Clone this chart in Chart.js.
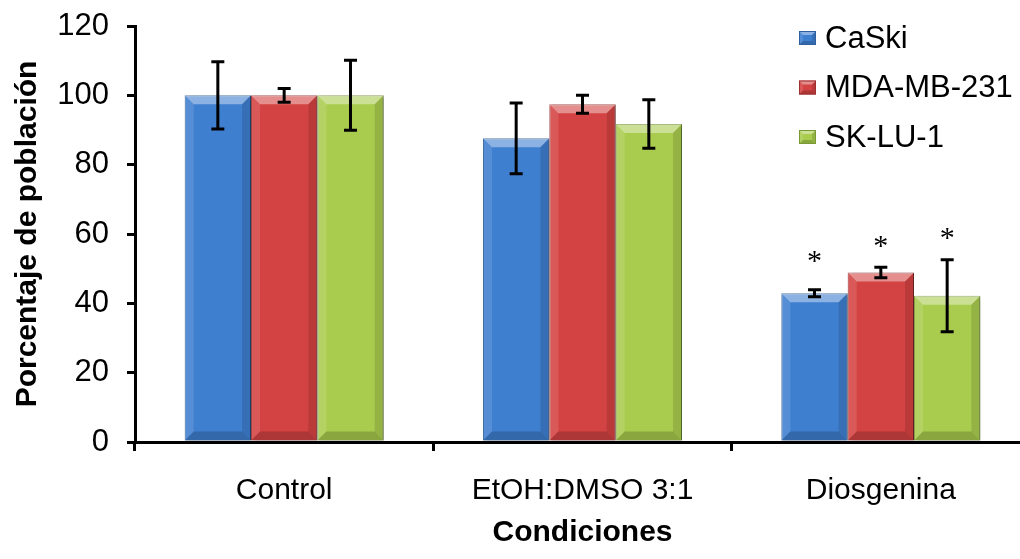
<!DOCTYPE html>
<html lang="es">
<head>
<meta charset="UTF-8">
<title>Porcentaje de población</title>
<script src="https://cdn.jsdelivr.net/npm/chart.js"></script>
<style>
    html, body {
        margin: 0;
        padding: 0;
        background: #fff;
        overflow: hidden;
    }

    /* plot runs a little past the window edge, like the original */
    .chart-box {
        width: 1032px;
        height: 559px;
    }
</style>
</head>
<body>
<div class="chart-box"><canvas id="chart"></canvas></div>

<script>
    const categories = ['Control', 'EtOH:DMSO 3:1', 'Diosgenina'];
    const seriesNames = ['CaSki', 'MDA-MB-231', 'SK-LU-1'];

    const caski = [100, 87.6, 42.9];
    const mda = [100, 97.4, 48.9];
    const sklu = [100, 91.7, 42.2];

    const caskiErr = [9.7, 10.2, 1.0];
    const mdaErr = [2.0, 2.6, 1.5];
    const skluErr = [10.1, 7.0, 10.4];

    // where the significance asterisks sit (value units), null = none
    const caskiStar = [null, null, 52.8];
    const mdaStar = [null, null, 57.1];
    const skluStar = [null, null, 59.4];

    const yMin = 0, yMax = 120, yStep = 20;

    const fills = ['#3f7fd0', '#d44343', '#a9cc4e'];
    const edges = ['#2f5f9c', '#9c2f2f', '#7a9a34'];

    const errs = [caskiErr, mdaErr, skluErr];
    const stars = [caskiStar, mdaStar, skluStar];

    const FONT = '"Liberation Sans", Arial, sans-serif';

    function poly(ctx, pts, color) {
        ctx.beginPath();
        ctx.moveTo(pts[0][0], pts[0][1]);
        for (let i = 1; i < pts.length; i++) ctx.lineTo(pts[i][0], pts[i][1]);
        ctx.closePath();
        ctx.fillStyle = color;
        ctx.fill();
    }

    // excel-like bevel on a rectangle
    function bevel(ctx, l, t, r, b, s) {
        poly(ctx, [[l, t], [r, t], [r - s, t + s], [l + s, t + s]], 'rgba(255,255,255,0.4)');
        poly(ctx, [[l, t], [l + s, t + s], [l + s, b - s], [l, b]], 'rgba(255,255,255,0.12)');
        poly(ctx, [[r, t], [r, b], [r - s, b - s], [r - s, t + s]], 'rgba(0,0,0,0.12)');
        poly(ctx, [[l, b], [r, b], [r - s, b - s], [l + s, b - s]], 'rgba(0,0,0,0.18)');
    }

    const barShadow = {
        id: 'barShadow',
        beforeDatasetDraw(chart) {
            const ctx = chart.ctx;
            ctx.save();
            ctx.shadowColor = 'rgba(0,0,0,0.35)';
            ctx.shadowBlur = 4;
            ctx.shadowOffsetX = 2;
            ctx.shadowOffsetY = 1;
        },
        afterDatasetDraw(chart) {
            chart.ctx.restore();
        }
    };

    const extras = {
        id: 'extras',
        afterDatasetsDraw(chart) {
            const ctx = chart.ctx;
            const y = chart.scales.y;

            // bevels
            chart.data.datasets.forEach((ds, di) => {
                chart.getDatasetMeta(di).data.forEach(bar => {
                    const l = bar.x - bar.width / 2, r = bar.x + bar.width / 2;
                    ctx.save();
                    bevel(ctx, l, bar.y, r, bar.base, 9);
                    ctx.restore();
                });
            });

            // error bars
            ctx.save();
            ctx.strokeStyle = '#000';
            ctx.lineWidth = 3;
            chart.data.datasets.forEach((ds, di) => {
                chart.getDatasetMeta(di).data.forEach((bar, i) => {
                    const v = ds.data[i], e = errs[di][i];
                    const top = y.getPixelForValue(v + e);
                    const bot = y.getPixelForValue(v - e);
                    ctx.beginPath();
                    ctx.moveTo(bar.x, top); ctx.lineTo(bar.x, bot);
                    ctx.moveTo(bar.x - 6.5, top); ctx.lineTo(bar.x + 6.5, top);
                    ctx.moveTo(bar.x - 6.5, bot); ctx.lineTo(bar.x + 6.5, bot);
                    ctx.stroke();
                });
            });
            ctx.restore();

            // asterisks
            ctx.save();
            ctx.fillStyle = '#000';
            ctx.font = '30px "Liberation Serif", serif';
            ctx.textAlign = 'center';
            ctx.textBaseline = 'alphabetic';
            chart.data.datasets.forEach((ds, di) => {
                chart.getDatasetMeta(di).data.forEach((bar, i) => {
                    const s = stars[di][i];
                    if (s == null) return;
                    ctx.fillText('*', bar.x, y.getPixelForValue(s) + 11);
                });
            });
            ctx.restore();

            // legend, top right inside the plot
            const area = chart.chartArea;
            ctx.save();
            ctx.font = '31px ' + FONT;
            ctx.textBaseline = 'middle';
            ctx.textAlign = 'left';
            chart.data.datasets.forEach((ds, di) => {
                const lx = area.right - 231;
                const ly = area.top + 12 + di * 49.5;
                ctx.fillStyle = fills[di];
                ctx.fillRect(lx, ly - 7, 17, 14);
                bevel(ctx, lx, ly - 7, lx + 17, ly + 7, 4);
                ctx.strokeStyle = edges[di];
                ctx.lineWidth = 1;
                ctx.strokeRect(lx + 0.5, ly - 6.5, 16, 13);
                ctx.fillStyle = '#000';
                ctx.fillText(ds.label, lx + 26, ly + 1);
            });
            ctx.restore();
        }
    };

    const ctx = document.getElementById('chart').getContext('2d');
    const chart = new Chart(ctx, {
        type: 'bar',
        data: {
            labels: categories,
            datasets: [caski, mda, sklu].map((vals, i) => ({
                label: seriesNames[i],
                data: vals,
                backgroundColor: fills[i],
                borderColor: edges[i],
                borderWidth: 1,
                categoryPercentage: 0.667,
                barPercentage: 1.0
            }))
        },
        options: {
            responsive: true,
            maintainAspectRatio: false,
            animation: false,
            layout: { padding: { top: 26, right: 2 } },
            plugins: {
                legend: { display: false },
                tooltip: { enabled: false }
            },
            scales: {
                x: {
                    grid: {
                        offset: true,
                        drawOnChartArea: false,
                        color: '#000',
                        lineWidth: 3,
                        tickLength: 9
                    },
                    border: { color: '#000', width: 3 },
                    ticks: {
                        color: '#000',
                        padding: 22,
                        font: { family: FONT, size: 30 }
                    },
                    title: {
                        display: true,
                        text: 'Condiciones',
                        color: '#000',
                        padding: { top: 0, bottom: 8 },
                        font: { family: FONT, size: 30, weight: 'bold' }
                    },
                    afterFit(scale) { scale.height = 117; }
                },
                y: {
                    min: yMin,
                    max: yMax,
                    grid: {
                        drawOnChartArea: false,
                        color: '#000',
                        lineWidth: 3,
                        tickLength: 8
                    },
                    border: { color: '#000', width: 3 },
                    ticks: {
                        stepSize: yStep,
                        color: '#000',
                        padding: 18,
                        // small line height keeps the top label from pushing the plot down
                        font: { family: FONT, size: 31, lineHeight: 0.4 }
                    },
                    title: {
                        display: true,
                        text: 'Porcentaje de población',
                        color: '#000',
                        padding: { top: 10, bottom: 0 },
                        font: { family: FONT, size: 30, weight: 'bold' }
                    },
                    afterFit(scale) { scale.width = 135; }
                }
            }
        },
        plugins: [barShadow, extras]
    });
</script>
</body>
</html>
